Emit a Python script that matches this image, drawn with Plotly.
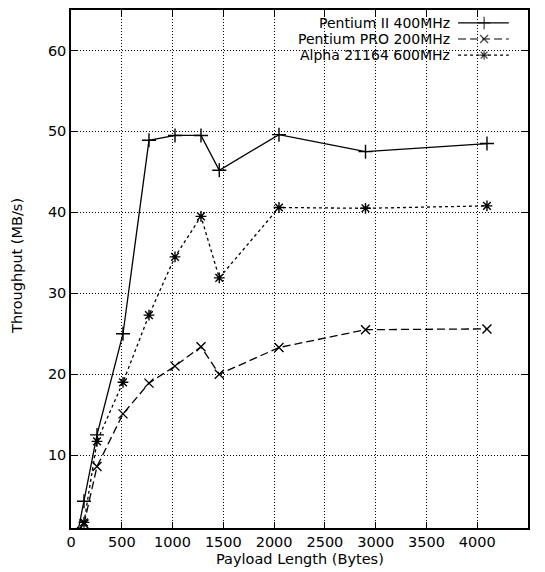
import plotly.graph_objects as go

# ---- data ----
payload = [64, 128, 256, 512, 768, 1024, 1280, 1460, 2048, 2900, 4096]
pentium2 = [0.3, 4.3, 12.5, 25.0, 48.9, 49.5, 49.5, 45.2, 49.6, 47.5, 48.5]
pentium_pro = [0.2, 1.5, 8.6, 15.1, 18.9, 21.0, 23.4, 20.0, 23.3, 25.5, 25.6]
alpha = [0.3, 1.7, 11.7, 19.0, 27.3, 34.5, 39.5, 31.9, 40.6, 40.5, 40.8]

series_names = ["Pentium II 400MHz", "Pentium PRO 200MHz", "Alpha 21164 600MHz"]
x_ticks = [0, 500, 1000, 1500, 2000, 2500, 3000, 3500, 4000, 4500]
y_ticks = [10, 20, 30, 40, 50, 60]

FONT = "DejaVu Sans, Verdana, sans-serif"
FS = 14.5
LFS = 14
styles = [
    dict(dash="solid", symbol="cross-thin", size=10),
    dict(dash="8px,4px", symbol="x-thin", size=9),
    dict(dash="3px,3px", symbol="asterisk-open", size=9),
]
values = [pentium2, pentium_pro, alpha]

fig = go.Figure()
for name, ys, st in zip(series_names, values, styles):
    fig.add_trace(go.Scatter(
        x=payload, y=ys, name=name, mode="lines+markers",
        line=dict(color="black", width=1.3, dash=st["dash"]),
        marker=dict(symbol=st["symbol"], size=st["size"], color="black",
                    line=dict(color="black", width=1.4)),
        showlegend=False,
    ))

# custom legend (gnuplot style: text left, sample on right)
legend_rows = [0.975, 0.944, 0.913]
for name, st, ry in zip(series_names, styles, legend_rows):
    fig.add_trace(go.Scatter(
        x=[0.847, 0.904, 0.958], y=[ry, ry, ry], xaxis="x2", yaxis="y2",
        mode="lines+markers", showlegend=False, hoverinfo="skip",
        line=dict(color="black", width=1.2, dash=st["dash"]),
        marker=dict(symbol=st["symbol"], size=[0, st["size"] - 1, 0], color="black",
                    line=dict(color="black", width=1.3)),
    ))
    fig.add_annotation(text=name, xref="paper", yref="paper", x=0.834, y=ry,
                       xanchor="right", yanchor="middle", showarrow=False,
                       font=dict(family=FONT, size=LFS, color="black"))

axis_common = dict(
    showline=True, linecolor="black", linewidth=1.5, mirror="ticks",
    ticks="inside", ticklen=6, tickcolor="black", tickwidth=1.2,
    showgrid=True, gridcolor="black", gridwidth=1, griddash="1px,2px",
    zeroline=False, tickfont=dict(family=FONT, size=FS, color="black"),
)

fig.update_layout(
    width=537, height=564,
    margin=dict(l=63, r=17, t=0, b=44),
    paper_bgcolor="white", plot_bgcolor="white",
    xaxis=dict(range=[0, 4500], tickvals=x_ticks, **axis_common),
    yaxis=dict(range=[1, 65], tickvals=y_ticks, **axis_common),
    xaxis2=dict(overlaying="x", range=[0, 1], visible=False),
    yaxis2=dict(overlaying="y", range=[0, 1], visible=False),
    annotations=list(fig.layout.annotations) + [
        dict(text="Payload Length (Bytes)", xref="paper", yref="paper",
             x=0.5, y=-0.0606, xanchor="center", yanchor="middle",
             showarrow=False, font=dict(family=FONT, size=FS, color="black")),
        dict(text="Throughput (MB/s)", xref="paper", yref="paper",
             x=-0.118, y=0.506, xanchor="center", yanchor="middle", textangle=-90,
             showarrow=False, font=dict(family=FONT, size=FS, color="black")),
    ],
)

fig.write_html("out.html")
